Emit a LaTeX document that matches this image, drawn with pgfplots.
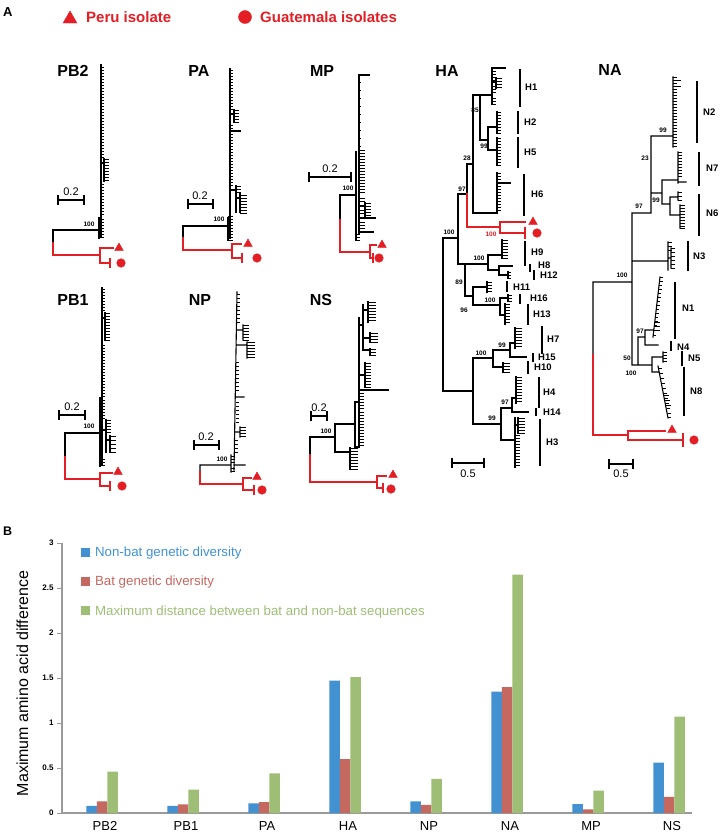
\documentclass[border=0pt]{standalone}
\usepackage{pgfplots}
\pgfplotsset{compat=1.18}
\usepackage{fontspec}
\setmainfont{Liberation Sans}
\definecolor{isored}{HTML}{E31E24}
\definecolor{bblue}{HTML}{4292D2}
\definecolor{bred}{HTML}{C46860}
\definecolor{bgreen}{HTML}{9EBE76}
\definecolor{axgray}{HTML}{9A9A9A}
\pgfdeclareplotmark{leaf}{\pgfpathmoveto{\pgfqpoint{0pt}{0pt}}\pgfpathlineto{\pgfqpoint{\pgfplotmarksize}{0pt}}\pgfusepathqstroke}
\tikzset{
 ttl/.style={font=\bfseries\fontsize{16}{18}\selectfont, inner sep=0pt},
 bs/.style={font=\bfseries\fontsize{6.5}{7}\selectfont, inner sep=0pt},
 cl/.style={font=\bfseries\fontsize{9.5}{10}\selectfont, inner sep=0pt, anchor=west},
 sc/.style={font=\fontsize{11}{12}\selectfont, inner sep=0pt},
}
\pgfplotsset{
 blk/.style={black, line width=1.1pt, no marks, line cap=rect},
 rd/.style={isored, line width=1.1pt, no marks, line cap=rect},
 lf/.style={only marks, mark=leaf, mark size=#1, mark options={black, line width=0.5pt}},
}
\begin{document}
\begin{tikzpicture}
\useasboundingbox (0,0) rectangle (720pt,-833pt);
\begin{axis}[at={(0pt,0pt)}, anchor=north west, width=720pt, height=500pt, scale only axis,
 xmin=0, xmax=720, ymin=0, ymax=500, y dir=reverse, hide axis, clip=false, unbounded coords=jump]
% header
\node[font=\bfseries\fontsize{13}{14}\selectfont, inner sep=0pt, anchor=west] at (3,12) {A};
\addplot[only marks, mark=triangle*, mark size=8, color=isored] coordinates {(70,19)};
\addplot[only marks, mark=*, mark size=6.5, color=isored] coordinates {(245,17)};
\node[anchor=west, inner sep=0pt, text=isored, font=\bfseries\fontsize{15}{16}\selectfont] at (86,17) {Peru isolate};
\node[anchor=west, inner sep=0pt, text=isored, font=\bfseries\fontsize{15}{16}\selectfont] at (260,17) {Guatemala isolates};
% ---------------- PB2
\node[ttl] at (73,71) {PB2};
\addplot[blk] coordinates {(101,65) (101,236) (nan,nan) (99,218) (99,238) (nan,nan) (53,243) (53,230) (99,230) (nan,nan) (101,163) (104,163) (nan,nan) (104,159) (104,181)};
\addplot[lf=3] coordinates {(101,67)(101,70)(101,73)(101,76)(101,79)(101,82)(101,85)(101,88)(101,91)(101,94)(101,97)(101,100)(101,103)(101,106)(101,109)(101,112)(101,115)(101,118)(101,121)(101,124)(101,127)(101,130)(101,133)(101,136)(101,139)(101,142)(101,145)(101,148)(101,151)(101,154)(101,157)(101,184)(101,187)(101,190)(101,193)(101,196)(101,199)(101,202)(101,205)(101,208)(101,211)(101,214)};
\addplot[lf=5] coordinates {(104,159)(104,162)(104,165)(104,168)(104,171)(104,174)(104,177)(104,180)(99,219)(99,222)(99,225)(99,228)(99,231)(99,234)(99,237)};
\addplot[rd] coordinates {(53,243) (53,255) (100,255) (nan,nan) (113,248) (100,248) (100,263) (110,263) (nan,nan) (110,259) (110,267)};
\node[bs] at (89,224) {100};
\addplot[blk] coordinates {(58,196) (58,204) (nan,nan) (58,200) (84,200) (nan,nan) (84,196) (84,204)};
\node[sc] at (71,192) {0.2};
% ---------------- PA
\node[ttl] at (199,71) {PA};
\addplot[blk] coordinates {(230,69) (230,238) (nan,nan) (228,218) (228,240) (nan,nan) (183,238) (183,226) (228,226) (nan,nan) (230,114) (234,114) (nan,nan) (234,110) (234,122) (nan,nan) (230,190) (236,190) (nan,nan) (236,186) (236,212) (nan,nan) (236,198) (240,198) (nan,nan) (240,194) (240,212) (nan,nan) (230,131) (240,131)};
\addplot[lf=3] coordinates {(230,70)(230,73)(230,76)(230,79)(230,82)(230,85)(230,88)(230,91)(230,94)(230,97)(230,100)(230,103)(230,106)(230,109)(230,125)(230,128)(230,134)(230,137)(230,140)(230,143)(230,146)(230,149)(230,152)(230,155)(230,158)(230,161)(230,164)(230,167)(230,170)(230,173)(230,176)(230,179)(230,182)(230,185)};
\addplot[lf=5] coordinates {(234,110)(234,113)(234,116)(234,119)(234,122)(236,186)(236,189)(236,192)(228,216)(228,219)(228,222)(228,225)(228,228)(228,231)(228,234)(228,237)(228,240)};
\addplot[lf=7] coordinates {(240,195)(240,198)(240,201)(240,204)(240,207)(240,210)(240,213)};
\addplot[rd] coordinates {(183,238) (183,250) (232,250) (nan,nan) (241,244) (232,244) (232,258) (242,258) (nan,nan) (242,254) (242,262)};
\node[bs] at (219,219) {100};
\addplot[blk] coordinates {(188,200) (188,208) (nan,nan) (188,204) (213,204) (nan,nan) (213,200) (213,208)};
\node[sc] at (200,196) {0.2};
% ---------------- MP
\node[ttl] at (322,71) {MP};
\addplot[blk] coordinates {(369,75) (359,75) (359,233) (nan,nan) (356,152) (356,240) (nan,nan) (340,220) (340,195) (356,195) (nan,nan) (359,206) (365,206) (nan,nan) (365,203) (365,216) (nan,nan) (359,218) (375,218) (nan,nan) (359,232) (373,232)};
\addplot[lf=2] coordinates {(359,82)(359,90)(359,98)(359,106)(359,114)(359,122)(359,130)(359,138)(359,146)};
\addplot[lf=6] coordinates {(359,150)(359,153)(359,156)(359,159)(359,162)(359,165)(359,168)(359,171)(359,174)(359,177)(359,180)(359,183)(359,186)(359,189)(359,192)(359,198)(359,201)(359,210)(359,213)(359,222)(359,225)(359,228)(365,203)(365,206)(365,209)(365,212)(365,215)};
\addplot[lf=4] coordinates {(356,234)(356,237)(356,240)};
\addplot[rd] coordinates {(340,220) (340,252) (370,252) (nan,nan) (376,245) (370,245) (370,258) (373,258) (nan,nan) (373,254) (373,262)};
\node[bs] at (348,188) {100};
\addplot[blk] coordinates {(309,173) (309,181) (nan,nan) (309,177) (351,177) (nan,nan) (351,173) (351,181)};
\node[sc] at (330,169) {0.2};
% ---------------- PB1
\node[ttl] at (73,300) {PB1};
\addplot[blk] coordinates {(102,288) (102,465) (nan,nan) (100,398) (100,466) (nan,nan) (65,457) (65,433) (100,433) (nan,nan) (102,318) (105,318) (nan,nan) (105,313) (105,340) (nan,nan) (102,430) (106,430) (nan,nan) (106,420) (106,452) (nan,nan) (106,440) (110,440) (nan,nan) (110,436) (110,452)};
\addplot[lf=3] coordinates {(102,289)(102,292)(102,295)(102,298)(102,301)(102,304)(102,307)(102,310)(102,345)(102,348)(102,351)(102,354)(102,357)(102,360)(102,363)(102,366)(102,369)(102,372)(102,375)(102,378)(102,381)(102,384)(102,387)(102,390)(102,393)(102,396)};
\addplot[lf=5] coordinates {(105,313)(105,316)(105,319)(105,322)(105,325)(105,328)(105,331)(105,334)(105,337)(105,340)(106,420)(106,423)(106,426)(106,429)(106,432)(100,400)(100,403)(100,406)(100,409)(100,412)(100,415)(100,418)(100,459)(100,462)(100,465)};
\addplot[lf=6] coordinates {(110,436)(110,440)(110,444)(110,448)(110,452)};
\addplot[rd] coordinates {(65,457) (65,479) (100,479) (nan,nan) (112,473) (100,473) (100,486) (110,486) (nan,nan) (110,482) (110,490)};
\node[bs] at (89,426) {100};
\addplot[blk] coordinates {(59,411) (59,419) (nan,nan) (59,415) (85,415) (nan,nan) (85,411) (85,419)};
\node[sc] at (72,407) {0.2};
% ---------------- NP
\node[ttl] at (200,300) {NP};
\addplot[blk] coordinates {(237,292) (234,470) (nan,nan) (231,455) (231,472) (nan,nan) (200,472) (200,465) (231,465) (nan,nan) (237,330) (243,330) (nan,nan) (243,325) (243,340) (nan,nan) (237,345) (247,345) (nan,nan) (247,342) (247,358) (nan,nan) (236,397) (244,397) (nan,nan) (235,432) (240,432) (nan,nan) (240,427) (240,437) (nan,nan) (234,465) (245,465)};
\addplot[lf=3] coordinates {(237,294)(237,298)(237,302)(237,306)(237,310)(237,314)(237,318)(237,322)(236,362)(236,366)(236,370)(236,374)(236,378)(236,382)(236,386)(236,390)(236,402)(236,406)(236,410)(236,414)(236,418)(236,422)(235,440)(235,444)(235,448)(235,452)};
\addplot[lf=6] coordinates {(243,325)(243,328)(243,331)(243,334)(243,337)(243,340)(240,427)(240,430)(240,433)(240,436)};
\addplot[lf=8] coordinates {(247,342)(247,345)(247,348)(247,351)(247,354)(247,357)};
\addplot[lf=4] coordinates {(231,456)(231,459)(231,462)(231,468)(231,471)};
\addplot[rd] coordinates {(200,472) (200,484) (243,484) (nan,nan) (251,478) (243,478) (243,490) (254,490) (nan,nan) (254,486) (254,494)};
\node[bs] at (222,459) {100};
\addplot[blk] coordinates {(194,441) (194,449) (nan,nan) (194,445) (219,445) (nan,nan) (219,441) (219,449)};
\node[sc] at (206,437) {0.2};
% ---------------- NS
\node[ttl] at (321,300) {NS};
\addplot[blk] coordinates {(310,455) (310,437) (335,437) (nan,nan) (335,424) (335,452) (nan,nan) (335,424) (355,424) (nan,nan) (335,452) (350,452) (nan,nan) (350,448) (350,469) (nan,nan) (355,402) (355,447) (nan,nan) (355,402) (359,402) (nan,nan) (355,447) (359,447) (nan,nan) (359,318) (359,447) (nan,nan) (359,325) (363,325) (nan,nan) (363,305) (363,350) (nan,nan) (363,310) (368,310) (nan,nan) (368,302) (368,322) (nan,nan) (363,338) (370,338) (nan,nan) (370,333) (370,342) (nan,nan) (363,350) (370,350) (nan,nan) (370,349) (370,355) (nan,nan) (359,375) (365,375) (nan,nan) (365,363) (365,387) (nan,nan) (359,390) (388,390)};
\addplot[lf=8] coordinates {(368,302)(368,305)(368,308)(368,311)(368,314)(368,317)(368,320)(370,333)(370,336)(370,339)(370,342)(350,448)(350,451)(350,454)(350,457)(350,460)(350,463)(350,466)(350,469)};
\addplot[lf=6] coordinates {(370,349)(370,352)(370,355)(365,363)(365,366)(365,369)(365,372)(365,375)(365,378)(365,381)(365,384)(365,387)};
\addplot[lf=5] coordinates {(359,393)(359,396)(359,399)(359,402)(359,405)(359,408)(359,412)(359,415)(359,418)(359,421)(359,424)(359,427)(359,430)(359,433)(359,436)(359,439)(359,442)(359,445)};
\addplot[rd] coordinates {(310,455) (310,482) (377,482) (nan,nan) (386,476) (377,476) (377,488) (383,488) (nan,nan) (383,484) (383,492)};
\node[bs] at (326,431) {100};
\addplot[blk] coordinates {(311,412) (311,420) (nan,nan) (311,416) (327,416) (nan,nan) (327,412) (327,420)};
\node[sc] at (319,408) {0.2};
% ---------------- HA
\node[ttl] at (447,71) {HA};
\addplot[blk] coordinates {(458,238) (443,238) (443,391) (473,391) (nan,nan) (467,194) (458,194) (458,264) (488,264) (nan,nan) (467,164) (467,194) (nan,nan) (467,164) (473,164) (nan,nan) (473,95) (473,213) (495,213) (nan,nan) (473,95) (492,95) (nan,nan) (480,95) (480,140) (488,140) (nan,nan) (497,127) (488,127) (488,150) (497,150) (nan,nan) (492,68) (492,104) (nan,nan) (492,68) (505,68) (nan,nan) (492,82) (496,82) (nan,nan) (496,78) (496,88)
 (nan,nan) (497,112) (497,133) (nan,nan) (497,138) (497,165) (nan,nan) (497,173) (497,213) (nan,nan) (497,183) (510,183)
 (nan,nan) (465,264) (465,296) (473,296) (nan,nan) (502,255) (488,255) (488,270) (499,270) (nan,nan) (502,240) (502,258) (nan,nan) (499,266) (499,275) (nan,nan) (499,266) (512,266) (nan,nan) (499,275) (508,275) (nan,nan) (508,272) (508,278)
 (nan,nan) (487,287) (473,287) (473,305) (500,305) (nan,nan) (487,282) (487,292) (nan,nan) (508,298) (500,298) (500,315) (505,315) (nan,nan) (508,295) (508,301) (nan,nan) (505,304) (505,324)
 (nan,nan) (473,358) (473,424) (501,424) (nan,nan) (473,358) (493,358) (nan,nan) (510,350) (493,350) (493,367) (503,367) (nan,nan) (515,343) (510,343) (510,357) (526,357) (nan,nan) (515,328) (515,348) (nan,nan) (503,363) (503,372)
 (nan,nan) (512,408) (501,408) (501,440) (515,440) (nan,nan) (516,398) (512,398) (512,412) (528,412) (nan,nan) (516,377) (516,403) (nan,nan) (515,418) (515,467) (nan,nan) (515,425) (518,425) (nan,nan) (518,418) (518,433)};
\addplot[lf=4] coordinates {(492,71)(492,74)(492,77)(492,80)(492,86)(492,89)(492,92)(492,98)(492,101)(492,104)(497,112)(497,115)(497,118)(497,121)(497,124)(497,127)(497,130)(497,133)(497,138)(497,141)(497,144)(497,147)(497,150)(497,153)(497,156)(497,159)(497,162)(497,165)(497,173)(497,176)(497,179)(497,186)(497,189)(497,192)(497,195)(497,198)(497,201)(497,204)(497,207)(497,210)(508,295)(508,298)(508,301)};
\addplot[lf=6] coordinates {(496,78)(496,81)(496,84)(496,87)(502,240)(502,243)(502,246)(502,249)(502,252)(502,255)(502,258)(516,377)(516,380)(516,383)(516,386)(516,389)(516,392)(516,395)(516,398)(516,401)};
\addplot[lf=3] coordinates {(508,272)(508,275)(508,278)};
\addplot[lf=5] coordinates {(487,282)(487,285)(487,288)(487,291)(505,304)(505,307)(505,310)(505,313)(505,316)(505,319)(505,322)(515,435)(515,438)(515,441)(515,444)(515,447)(515,450)(515,453)(515,456)(515,459)(515,462)(515,465)};
\addplot[lf=7] coordinates {(515,328)(515,331)(515,334)(515,337)(515,340)(515,343)(515,346)(503,363)(503,366)(503,369)(503,372)(518,418)(518,421)(518,424)(518,427)(518,430)(518,433)};
\addplot[rd] coordinates {(467,194) (467,227) (500,227) (nan,nan) (525,222) (500,222) (500,233) (525,233) (nan,nan) (525,228) (525,238)};
\node[bs] at (449,232) {100};
\node[bs] at (462,189) {97};
\node[bs] at (467,158) {28};
\node[bs] at (475,110) {85};
\node[bs] at (484,146) {99};
\node[bs, text=isored] at (491,234) {100};
\node[bs] at (479,258) {100};
\node[bs] at (459,282) {89};
\node[bs] at (464,310) {96};
\node[bs] at (490,300) {100};
\node[bs] at (481,353) {100};
\node[bs] at (502,345) {99};
\node[bs] at (492,418) {99};
\node[bs] at (505,402) {97};
\addplot[blk] coordinates {(520,70) (520,106) (nan,nan) (518,112) (518,133) (nan,nan) (518,138) (518,167) (nan,nan) (524,175) (524,215) (nan,nan) (525,242) (525,265) (nan,nan) (530,265) (530,271) (nan,nan) (534,271) (534,279) (nan,nan) (507,282) (507,291) (nan,nan) (520,295) (520,303) (nan,nan) (528,305) (528,324) (nan,nan) (542,327) (542,353) (nan,nan) (533,354) (533,361) (nan,nan) (528,362) (528,373) (nan,nan) (539,378) (539,407) (nan,nan) (536,409) (536,415) (nan,nan) (540,420) (540,465)};
\node[cl] at (525,87) {H1};
\node[cl] at (524,122) {H2};
\node[cl] at (524,152) {H5};
\node[cl] at (531,194) {H6};
\node[cl] at (531,252) {H9};
\node[cl] at (538,265) {H8};
\node[cl] at (540,275) {H12};
\node[cl] at (513,287) {H11};
\node[cl] at (530,298) {H16};
\node[cl] at (533,314) {H13};
\node[cl] at (547,339) {H7};
\node[cl] at (538,357) {H15};
\node[cl] at (534,367) {H10};
\node[cl] at (543,392) {H4};
\node[cl] at (543,412) {H14};
\node[cl] at (546,442) {H3};
\addplot[blk] coordinates {(452,459) (452,467) (nan,nan) (452,463) (484,463) (nan,nan) (484,459) (484,467)};
\node[sc] at (468,474) {0.5};
% ---------------- NA
\node[ttl] at (610,70) {NA};
\addplot[blk] coordinates {(632,282) (593,282) (593,355) (nan,nan) (632,213) (632,365) (652,365) (nan,nan) (632,213) (651,213) (nan,nan) (632,261) (668,261) (nan,nan) (651,136) (651,213) (nan,nan) (651,136) (673,136) (nan,nan) (651,193) (662,193) (nan,nan) (662,180) (662,204) (nan,nan) (662,180) (678,180) (nan,nan) (662,204) (670,204) (nan,nan) (670,197) (670,215) (nan,nan) (670,197) (678,197) (nan,nan) (670,215) (680,215)
 (nan,nan) (673,77) (673,147) (nan,nan) (678,152) (678,183) (nan,nan) (678,182) (686,182) (nan,nan) (678,192) (678,200) (nan,nan) (680,205) (680,228) (nan,nan) (668,242) (668,270) (nan,nan) (668,258) (671,258) (nan,nan) (671,248) (671,268)
 (nan,nan) (638,337) (638,365) (nan,nan) (638,337) (645,337) (nan,nan) (645,330) (645,345) (nan,nan) (645,330) (653,330) (nan,nan) (660,277) (653,337) (nan,nan) (645,345) (658,345) (nan,nan) (652,357) (652,372) (nan,nan) (652,357) (663,357) (nan,nan) (663,352) (663,362) (nan,nan) (652,372) (658,372) (nan,nan) (658,366) (668,418)};
\addplot[lf=4] coordinates {(673,77)(673,83)(673,89)(673,92)(673,95)(673,98)(673,101)(673,104)(673,107)(673,110)(673,113)(673,116)(673,119)(673,122)(673,125)(673,128)(673,131)(673,134)(673,137)(673,140)(673,143)(673,146)(678,152)(678,155)(678,158)(678,161)(678,164)(678,167)(678,170)(678,173)(678,176)(678,192)(678,196)(678,200)(668,242)(668,246)(668,250)(671,248)(671,252)(671,256)(671,260)(671,264)(671,268)(663,352)(663,355)(663,358)(663,361)};
\addplot[lf=8] coordinates {(673,80)(673,86)};
\addplot[lf=5] coordinates {(680,205)(680,208)(680,211)(680,214)(680,217)(680,220)(680,223)(680,226)(680,228)};
\addplot[lf=3] coordinates {(660,277)(659.5,281)(659,285)(658.5,289)(658,293)(657.5,297)(657,301)(656.5,305)(656,309)(655.5,313)(655,317)(654.5,321)(654,325)(653.5,330)(653,335)(658.5,368)(659.5,373)(660.5,378)(661.5,383)(662.5,388)(663.5,393)(664.5,398)(665.5,403)(666.5,408)(667.5,413)(668,417)};
\addplot[lf=6] coordinates {(654,322)(654,326)(654,330)(663,395)(664,400)(665,405)};
\addplot[rd] coordinates {(593,355) (593,435) (628,435) (nan,nan) (665,431) (628,431) (628,440) (683,440) (nan,nan) (683,434) (683,446)};
\node[bs] at (663,130) {99};
\node[bs] at (645,158) {23};
\node[bs] at (656,200) {99};
\node[bs] at (639,206) {97};
\node[bs] at (622,275) {100};
\node[bs] at (640,331) {97};
\node[bs] at (627,358) {50};
\node[bs] at (631,373) {100};
\addplot[blk] coordinates {(697,82) (697,142) (nan,nan) (699,153) (699,185) (nan,nan) (699,195) (699,235) (nan,nan) (688,242) (688,270) (nan,nan) (675,283) (675,338) (nan,nan) (671,342) (671,350) (nan,nan) (682,352) (682,365) (nan,nan) (684,368) (684,415)};
\node[cl] at (703,112) {N2};
\node[cl] at (706,168) {N7};
\node[cl] at (706,213) {N6};
\node[cl] at (693,256) {N3};
\node[cl] at (682,308) {N1};
\node[cl] at (677,347) {N4};
\node[cl] at (688,358) {N5};
\node[cl] at (690,391) {N8};
\addplot[blk] coordinates {(609,460) (609,468) (nan,nan) (609,464) (633,464) (nan,nan) (633,460) (633,468)};
\node[sc] at (621,474) {0.5};
% ---------------- isolate markers
\addplot[only marks, mark=triangle*, mark size=5, color=isored] coordinates {(119,248) (248,244) (382,245) (118,472) (257,477) (393,475) (533,222) (672,430)};
\addplot[only marks, mark=*, mark size=4.3, color=isored] coordinates {(121,263) (257,258) (379,258) (122,486) (262,490) (391,489) (537,233) (694,440)};
\end{axis}
\node[font=\bfseries\fontsize{12.5}{14}\selectfont, inner sep=0pt, anchor=west] at (3pt,-531pt) {B};
\begin{axis}[at={(62pt,-813pt)}, anchor=south west, width=630pt, height=270pt, scale only axis,
 xmin=-0.494, xmax=7.284, ymin=0, ymax=3,
 ybar=0pt, bar width=10.5pt,
 axis x line*=bottom, axis y line*=left,
 axis line style={axgray, line width=1.6pt},
 xtick={0,1,2,3,4,5,6,7}, xticklabels={PB2,PB1,PA,HA,NP,NA,MP,NS},
 xtick style={draw=none},
 xticklabel style={font=\fontsize{13}{14}\selectfont, xshift=3pt},
 ytick={0,0.5,1,1.5,2,2.5,3}, yticklabels={0,0.5,1,1.5,2,2.5,3},
 ytick style={axgray, line width=1pt},
 tick align=outside, major tick length=5pt,
 yticklabel style={font=\bfseries\fontsize{8}{9}\selectfont},
 ylabel={Maximum amino acid difference},
 ylabel style={font=\fontsize{16}{17}\selectfont, at={(axis description cs:-0.063,0.48)}, anchor=center},
 legend cell align=left,
 legend style={draw=none, fill=none, at={(axis description cs:0.03,0.993)}, anchor=north west, inner sep=0pt, row sep=14pt, font=\fontsize{13.3}{14}\selectfont},
 legend image code/.code={\fill[#1] (0pt,-4.5pt) rectangle (9pt,4.5pt); \path (0pt,0pt) -- (12pt,0pt);},
 clip=false,
]
\addplot[fill=bblue, draw=none] coordinates {(0,0.08) (1,0.08) (2,0.107) (3,1.47) (4,0.13) (5,1.35) (6,0.10) (7,0.56)};
\addplot[fill=bred, draw=none] coordinates {(0,0.13) (1,0.097) (2,0.12) (3,0.60) (4,0.09) (5,1.40) (6,0.04) (7,0.18)};
\addplot[fill=bgreen, draw=none] coordinates {(0,0.46) (1,0.26) (2,0.44) (3,1.51) (4,0.38) (5,2.65) (6,0.25) (7,1.07)};
\legend{\textcolor{bblue}{Non-bat genetic diversity},\textcolor{bred}{Bat genetic diversity},\textcolor{bgreen}{Maximum distance between bat and non-bat sequences}}
\end{axis}
\end{tikzpicture}
\end{document}
